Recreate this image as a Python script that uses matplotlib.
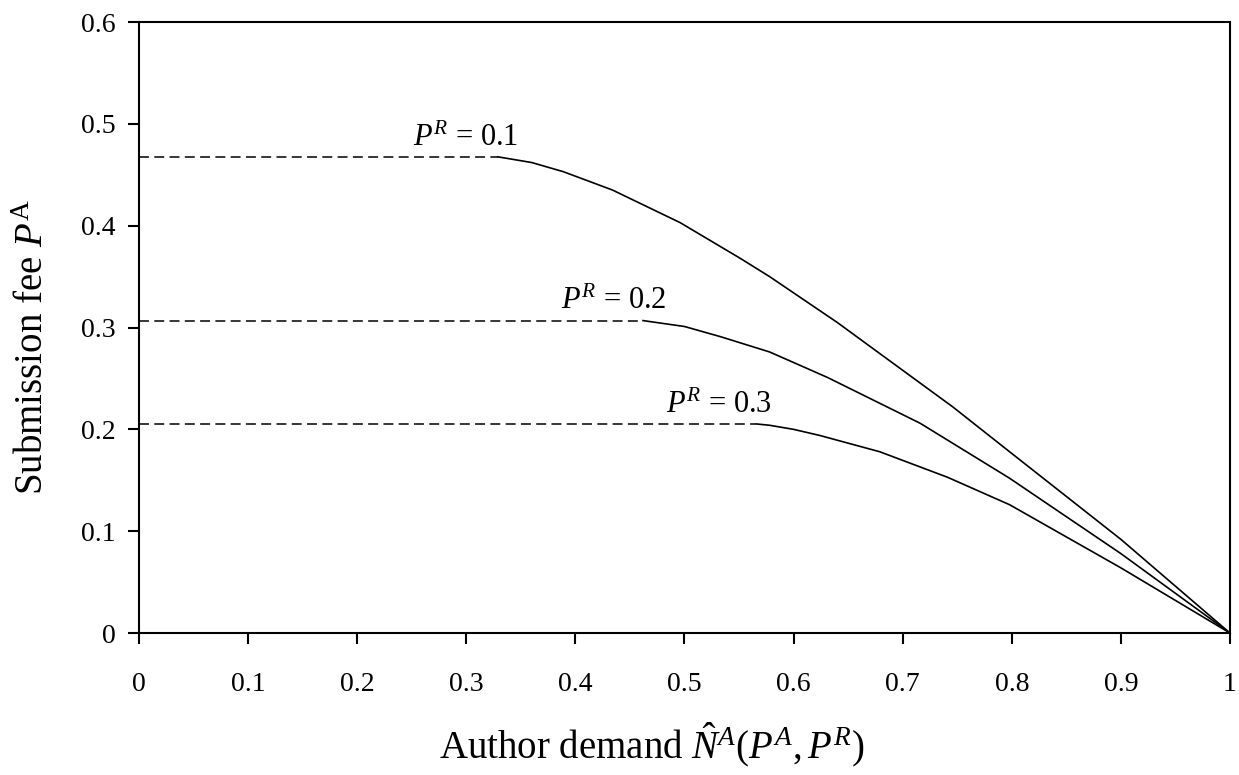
import matplotlib
matplotlib.use("Agg")
import matplotlib.pyplot as plt

plt.rcParams['font.family'] = 'Liberation Serif'
plt.rcParams['mathtext.fontset'] = 'custom'
plt.rcParams['mathtext.rm'] = 'Liberation Serif'
plt.rcParams['mathtext.it'] = 'Liberation Serif:italic'

# kink points (end of flat dashed part) and curved part
pr_labels = ['0.1', '0.2', '0.3']

x1 = [0.329, 0.360, 0.389, 0.434, 0.496, 0.551, 0.578, 0.640, 0.700, 0.746, 0.798, 0.900, 1.0]
y1 = [0.4676, 0.462, 0.453, 0.435, 0.403, 0.368, 0.350, 0.305, 0.258, 0.222, 0.178, 0.092, 0.0]

x2 = [0.462, 0.500, 0.533, 0.578, 0.631, 0.716, 0.798, 0.900, 1.0]
y2 = [0.3068, 0.301, 0.291, 0.276, 0.251, 0.206, 0.152, 0.078, 0.0]

x3 = [0.566, 0.578, 0.600, 0.624, 0.679, 0.741, 0.798, 0.900, 1.0]
y3 = [0.2053, 0.204, 0.200, 0.194, 0.178, 0.153, 0.126, 0.064, 0.0]

label_x = [0.299, 0.435, 0.532]

fig = plt.figure(figsize=(12.39, 7.75), dpi=100)
ax = fig.add_axes([0.1122, 0.1832, 0.8805, 0.7884])

for xs, ys, lx, pr in zip([x1, x2, x3], [y1, y2, y3], label_x, pr_labels):
    ax.plot([0, xs[0]], [ys[0], ys[0]], color='black', lw=1.1, ls=(0, (6.5, 3.5)))
    ax.plot(xs, ys, color='black', lw=1.2)
    ax.text(lx, ys[0] + 0.011, r'$P^{R}$' + ' = ' + pr, ha='center', va='baseline',
            fontsize=22)

ax.set_xlim(0, 1)
ax.set_ylim(0, 0.6)
ax.set_xticks([i / 10 for i in range(11)])
ax.set_xticklabels(['0'] + ['0.%d' % i for i in range(1, 10)] + ['1'])
ax.set_yticks([i / 10 for i in range(7)])
ax.set_yticklabels(['0'] + ['0.%d' % i for i in range(1, 7)])
ax.tick_params(direction='out', length=8, width=1.5, labelsize=20)
ax.tick_params(axis='x', pad=20)
ax.tick_params(axis='y', pad=9)
for s in ax.spines.values():
    s.set_linewidth(1.5)

ax.set_xlabel(r'Author demand $\hat{N}^{A}(P^{A}, P^{R})$', fontsize=28)
ax.xaxis.label.set_va('baseline')
ax.xaxis.set_label_coords(0.47, -0.207)
ax.set_ylabel(r'Submission fee $P^{\mathrm{A}}$', fontsize=28)
ax.yaxis.label.set_va('center')
ax.yaxis.set_label_coords(-0.097, 0.468)

fig.savefig('out.png', dpi=100)
